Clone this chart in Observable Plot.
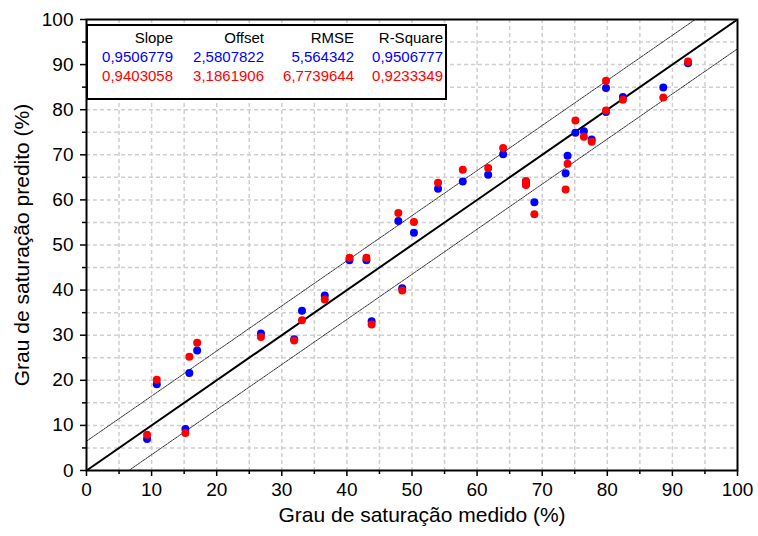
<!DOCTYPE html>
<html>
<head>
<meta charset="utf-8">
<script src="https://cdn.jsdelivr.net/npm/d3@7"></script>
<script src="https://cdn.jsdelivr.net/npm/@observablehq/plot@0.6"></script>
<style>
  html, body { margin: 0; padding: 0; background: #fff; }
  #chart { position: relative; width: 758px; height: 536px; }
</style>
</head>
<body>
<div id="chart"></div>
<script>
// ---- data ----
const measured  = [9.3, 10.8, 15.2, 15.8, 17.0, 26.8, 31.9, 33.1, 36.6, 40.4, 43.0, 43.8, 47.9, 48.5, 50.3, 54.0, 57.8, 61.7, 64.0, 67.5, 67.5, 68.8, 73.6, 73.9, 75.1, 76.4, 77.6, 79.8, 79.8, 82.4, 88.6, 92.4];
const predBlue  = [7.0, 19.1, 9.2, 21.6, 26.6, 30.4, 29.1, 35.4, 38.8, 46.6, 46.6, 33.1, 55.3, 40.4, 52.7, 62.5, 64.1, 65.6, 70.1, 64.0, 63.4, 59.5, 65.9, 69.8, 74.9, 75.2, 73.4, 84.8, 79.5, 82.8, 84.9, 90.3];
const predRed   = [7.9, 20.1, 8.3, 25.2, 28.3, 29.6, 28.8, 33.3, 37.9, 47.2, 47.2, 32.4, 57.1, 39.9, 55.1, 63.8, 66.7, 67.1, 71.5, 64.2, 63.3, 56.8, 62.3, 68.0, 77.6, 74.0, 72.9, 86.4, 79.8, 82.2, 82.7, 90.7];
const refOffsets = [0, 6.5, -6.5];          // 1:1 line and the two band lines
const majorTicks = [0, 10, 20, 30, 40, 50, 60, 70, 80, 90, 100];
const minorTicks = [5, 15, 25, 35, 45, 55, 65, 75, 85, 95];
const gridTicks  = [5, 10, 15, 20, 25, 30, 35, 40, 45, 50, 55, 60, 65, 70, 75, 80, 85, 90, 95];
const xTitle = "Grau de saturação medido (%)";
const yTitle = "Grau de saturação predito (%)";
const statHeaders = ["Slope", "Offset", "RMSE", "R-Square"];
const statsBlue = ["0,9506779", "2,5807822", "5,564342", "0,9506777"];
const statsRed  = ["0,9403058", "3,1861906", "6,7739644", "0,9233349"];

// ---- derived tables ----
const blueRows = measured.map((m, i) => ({x: m, y: predBlue[i]}));
const redRows  = measured.map((m, i) => ({x: m, y: predRed[i]}));
const domain = [0, 100];
const refLines = refOffsets.map(o => domain.map(x => ({x, y: x + o, o})));

const FONT = "'Liberation Sans', Arial, sans-serif";

const svg = Plot.plot({
  width: 758,
  height: 536,
  marginLeft: 86,
  marginRight: 21,
  marginTop: 19,
  marginBottom: 66,
  style: {fontFamily: FONT, background: "#fff", color: "#000", overflow: "visible"},
  x: {domain, label: null},
  y: {domain, label: null},
  marks: [
    Plot.gridX(gridTicks, {stroke: "#cfcfcf", strokeOpacity: 1, strokeWidth: 1.5, strokeDasharray: "4,3"}),
    Plot.gridY(gridTicks, {stroke: "#cfcfcf", strokeOpacity: 1, strokeWidth: 1.5, strokeDasharray: "4,3"}),
    ...refLines.map(pts => Plot.line(pts, {
      x: "x", y: "y", clip: true,
      stroke: pts[0].o === 0 ? "#000" : "#333",
      strokeWidth: pts[0].o === 0 ? 2 : 1,
      strokeDasharray: pts[0].o === 0 ? null : "2,1"
    })),
    Plot.dot(blueRows, {x: "x", y: "y", r: 4, fill: "#0000ff", stroke: "none"}),
    Plot.dot(redRows,  {x: "x", y: "y", r: 4, fill: "#ff0000", stroke: "none"}),
    Plot.axisX(majorTicks, {tickSize: 6, tickPadding: 6, fontSize: 19, tickFormat: d => String(d), strokeWidth: 1.5}),
    Plot.axisX(minorTicks, {tickSize: 4, tickFormat: () => "", strokeWidth: 1.5}),
    Plot.axisY(majorTicks, {tickSize: 6, tickPadding: 7, fontSize: 19, tickFormat: d => String(d), strokeWidth: 1.5}),
    Plot.axisY(minorTicks, {tickSize: 4, tickFormat: () => "", strokeWidth: 1.5}),
    Plot.frame({stroke: "#000", strokeWidth: 2}),
    Plot.text([xTitle], {frameAnchor: "bottom", textAnchor: "middle", dx: 10, dy: 51, fontSize: 21, text: d => d}),
    Plot.text([yTitle], {frameAnchor: "left", textAnchor: "middle", dx: -64, rotate: -90, fontSize: 21, text: d => d})
  ]
});
document.getElementById("chart").appendChild(svg);

// ---- statistics box (annotation) ----
const g = d3.select(svg).append("g").attr("font-family", FONT).attr("font-size", 15);
g.append("rect")
  .attr("x", 87).attr("y", 25).attr("width", 359).attr("height", 74)
  .attr("fill", "#fff").attr("stroke", "#000").attr("stroke-width", 2);
const colRight = [173, 264, 354, 443];
const rowsText = [[statHeaders, "#000", 42.5], [statsBlue, "#0000ff", 62], [statsRed, "#ff0000", 81]];
rowsText.forEach(([vals, color, yb]) => {
  vals.forEach((v, j) => {
    g.append("text").attr("x", colRight[j]).attr("y", yb)
      .attr("text-anchor", "end").attr("fill", color).text(v);
  });
});
</script>
</body>
</html>
